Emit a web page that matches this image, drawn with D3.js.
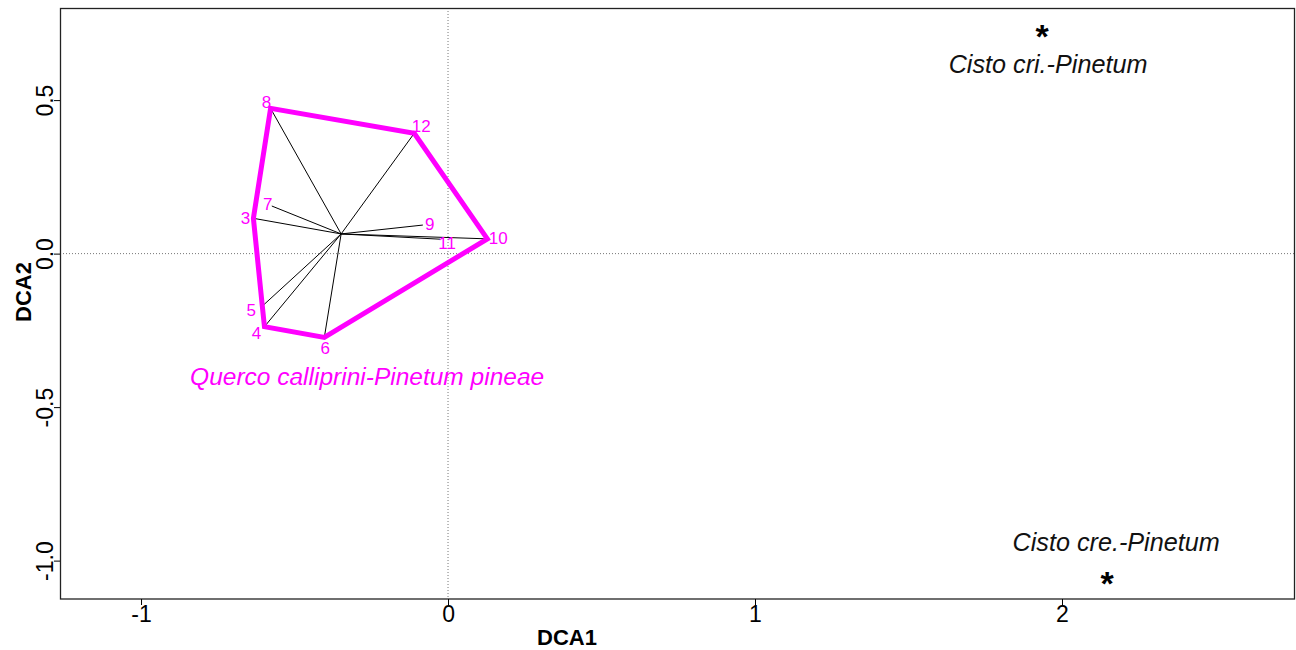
<!DOCTYPE html>
<html lang="en">
<head>
	<meta charset="utf-8">
	<title>DCA ordination</title>
	<script src="https://cdn.jsdelivr.net/npm/d3@7"></script>
</head>
<style type="text/css">
	body{ margin:0; background:#fff; }
	svg{ font-family: "Liberation Sans", Arial, sans-serif; }
</style>
<body>
<div id="vizContainer"></div>
<script type="text/javascript">
// -----------PART 1: THE DATA-----------
// relevés of the Querco calliprini-Pinetum pineae group (DCA scores)
var siteIds = ["3","4","5","6","7","8","9","10","11","12"];
var siteDCA1 = [-0.634, -0.598, -0.605, -0.403, -0.574, -0.578, -0.082, 0.128, -0.026, -0.110];
var siteDCA2 = [0.115, -0.238, -0.171, -0.273, 0.155, 0.473, 0.093, 0.048, 0.047, 0.392];
var groupName = "Querco calliprini-Pinetum pineae";

// the two other associations, single points
var otherNames = ["Cisto cri.-Pinetum", "Cisto cre.-Pinetum"];
var otherDCA1 = [1.935, 2.147];
var otherDCA2 = [0.718, -1.063];

var xTicks = [-1, 0, 1, 2];
var xTickLabels = ["-1", "0", "1", "2"];
var yTicks = [-1, -0.5, 0, 0.5];
var yTickLabels = ["-1.0", "-0.5", "0.0", "0.5"];

// -----------PART 2: CANVAS-----------
var width = 1296;
var height = 650;
var svgCanvas = d3.select("#vizContainer").append("svg")
	.attr("width", width)
	.attr("height", height);

var xScale = d3.scaleLinear().domain([-1.264, 2.759]).range([60, 1295]);
var yScale = d3.scaleLinear().domain([-1.125, 0.80]).range([599, 8]);

// label nudges in pixels (site numbers sit a little off their points)
var labelNudge = {
	"3":[-8,0], "4":[-8,7], "5":[-11,4], "6":[1,11], "7":[-4,-2],
	"8":[-4,-6], "9":[7,-1], "10":[11,0], "11":[7,4], "12":[7,-7]
};
var magenta = "#ff00ff";

// -----------PART 3: DRAWING-----------
// dotted zero lines
svgCanvas.append("line")
	.attr("x1", xScale(0)).attr("x2", xScale(0))
	.attr("y1", yScale.range()[1]).attr("y2", yScale.range()[0])
	.attr("stroke", "#777").attr("stroke-width", 1).attr("stroke-dasharray", "1,2");
svgCanvas.append("line")
	.attr("x1", xScale.range()[0]).attr("x2", xScale.range()[1])
	.attr("y1", yScale(0)).attr("y2", yScale(0))
	.attr("stroke", "#777").attr("stroke-width", 1).attr("stroke-dasharray", "1,2");

var sites = siteIds.map(function(id, i){
	return {id: id, x: siteDCA1[i], y: siteDCA2[i]};
});
var cx = d3.mean(sites, function(d){ return d.x; });
var cy = d3.mean(sites, function(d){ return d.y; });

// spider from the centroid
svgCanvas.selectAll("line.spider")
	.data(sites)
	.enter()
	.append("line")
	.attr("class", "spider")
	.attr("x1", xScale(cx)).attr("y1", yScale(cy))
	.attr("x2", function(d){ return xScale(d.x); })
	.attr("y2", function(d){ return yScale(d.y); })
	.attr("stroke", "#000").attr("stroke-width", 1);

// hull
var hull = d3.polygonHull(sites.map(function(d){ return [xScale(d.x), yScale(d.y)]; }));
svgCanvas.append("path")
	.attr("d", "M" + hull.join("L") + "Z")
	.attr("fill", "none")
	.attr("stroke", magenta)
	.attr("stroke-width", 5)
	.attr("stroke-linejoin", "miter");

// site numbers
svgCanvas.selectAll("text.site")
	.data(sites)
	.enter()
	.append("text")
	.attr("class", "site")
	.attr("x", function(d){ return xScale(d.x) + labelNudge[d.id][0]; })
	.attr("y", function(d){ return yScale(d.y) + labelNudge[d.id][1]; })
	.attr("text-anchor", "middle")
	.attr("dominant-baseline", "central")
	.attr("font-size", 17)
	.attr("fill", magenta)
	.text(function(d){ return d.id; });

// group name
svgCanvas.append("text")
	.attr("x", xScale(cx) + 26)
	.attr("y", yScale(cy) + 143)
	.attr("text-anchor", "middle")
	.attr("dominant-baseline", "central")
	.attr("font-size", 24.5)
	.attr("font-style", "italic")
	.attr("fill", magenta)
	.text(groupName);

// the other two associations: asterisk + name
var others = otherNames.map(function(n, i){
	return {name: n, x: otherDCA1[i], y: otherDCA2[i]};
});
svgCanvas.selectAll("text.star")
	.data(others)
	.enter()
	.append("text")
	.attr("class", "star")
	.attr("x", function(d){ return xScale(d.x); })
	.attr("y", function(d){ return yScale(d.y) + 15; })
	.attr("text-anchor", "middle")
	.attr("font-size", 34)
	.attr("font-weight", "bold")
	.attr("fill", "#000")
	.text("*");
svgCanvas.selectAll("text.other")
	.data(others)
	.enter()
	.append("text")
	.attr("class", "other")
	.attr("x", function(d, i){ return xScale(d.x) + (i == 0 ? 6 : 9); })
	.attr("y", function(d, i){ return yScale(d.y) + (i == 0 ? 31 : -38); })
	.attr("text-anchor", "middle")
	.attr("dominant-baseline", "central")
	.attr("font-size", 25.2)
	.attr("font-style", "italic")
	.attr("fill", "#111")
	.text(function(d){ return d.name; });

// frame
svgCanvas.append("rect")
	.attr("x", 60.5).attr("y", 8.5)
	.attr("width", 1234).attr("height", 590.5)
	.attr("fill", "none").attr("stroke", "#222").attr("stroke-width", 1.3);

// axes
var xAxis = svgCanvas.append("g")
	.attr("transform", "translate(0," + 599 + ")")
	.call(d3.axisBottom(xScale).tickValues(xTicks).tickSize(6).tickSizeOuter(0)
		.tickFormat(function(d, i){ return xTickLabels[i]; }));
xAxis.select(".domain").remove();
xAxis.selectAll("text")
	.attr("font-size", 23).attr("font-family", null).attr("fill", "#000")
	.attr("y", 7).attr("dy", "0.71em");

var yAxis = svgCanvas.append("g")
	.attr("transform", "translate(" + 60 + ",0)")
	.call(d3.axisLeft(yScale).tickValues(yTicks).tickSize(6).tickSizeOuter(0)
		.tickFormat(function(d, i){ return yTickLabels[i]; }));
yAxis.select(".domain").remove();
yAxis.selectAll("text")
	.attr("font-size", 23).attr("font-family", null).attr("fill", "#000")
	.attr("x", null).attr("dy", null)
	.attr("text-anchor", "middle")
	.attr("dominant-baseline", "central")
	.attr("transform", "translate(-15,0) rotate(-90)");

// axis titles
svgCanvas.append("text")
	.attr("x", 567).attr("y", 637)
	.attr("text-anchor", "middle").attr("dominant-baseline", "central")
	.attr("font-size", 22).attr("font-weight", "bold")
	.text("DCA1");
svgCanvas.append("text")
	.attr("transform", "translate(23,292) rotate(-90)")
	.attr("text-anchor", "middle").attr("dominant-baseline", "central")
	.attr("font-size", 22).attr("font-weight", "bold")
	.text("DCA2");
</script>
</body>
</html>
